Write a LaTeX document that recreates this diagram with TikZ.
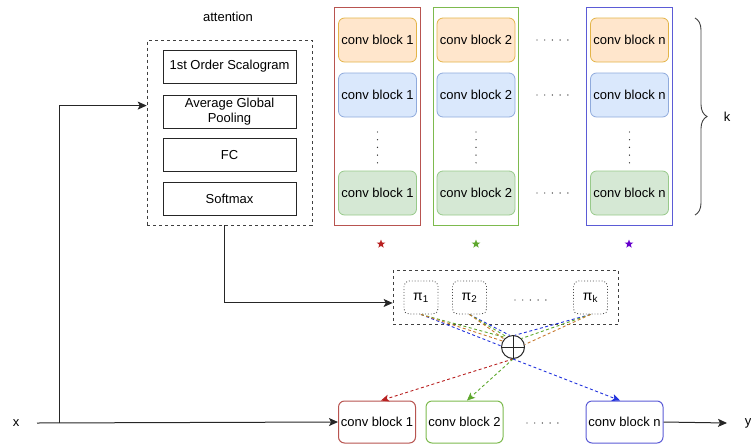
\documentclass[tikz,border=0pt]{standalone}
\usepackage{fontspec}
\setmainfont{Liberation Sans}
\usepackage{xcolor}
\usepackage{tikz}
\usetikzlibrary{arrows.meta,positioning,calc,fit,shapes.geometric,
                decorations.pathreplacing}
\definecolor{orgfill}{HTML}{FFE6CC}
\definecolor{orgline}{HTML}{E3B448}
\definecolor{blufill}{HTML}{DAE8FC}
\definecolor{bluline}{HTML}{8FAADC}
\definecolor{grnfill}{HTML}{D5E8D4}
\definecolor{grnline}{HTML}{97C98A}
\definecolor{redframe}{HTML}{B85450}
\definecolor{grnframe}{HTML}{7DBA4E}
\definecolor{bluframe}{HTML}{5B5BD6}
\definecolor{redmix}{HTML}{B82020}
\definecolor{grnmix}{HTML}{5FA82E}
\definecolor{blumix}{HTML}{2233DD}
\definecolor{orgmix}{HTML}{C8792E}
\definecolor{purstar}{HTML}{6600CC}

\begin{document}
\begin{tikzpicture}[
    x=1pt,y=-1pt,
    font=\fontsize{13}{15}\selectfont,
    cb/.style       = {draw, rounded corners=6pt, line width=0.8pt,
                       minimum width=78pt, minimum height=44pt, inner sep=1pt},
    cbo/.style      = {cb, draw=orgline, fill=orgfill},
    cbb/.style      = {cb, draw=bluline, fill=blufill},
    cbg/.style      = {cb, draw=grnline, fill=grnfill},
    bot/.style      = {cb, fill=white, line width=1pt,
                       minimum width=77pt, minimum height=42pt},
    att/.style      = {draw=black!85, line width=0.8pt, align=center,
                       minimum width=133pt, minimum height=33pt, inner sep=1pt},
    pibox/.style    = {draw=black!70, dotted, line width=0.9pt,
                       rounded corners=5pt, minimum width=34pt, minimum height=33pt,
                       font=\fontsize{14}{16}\selectfont},
    colframe/.style = {draw, line width=1pt, inner xsep=3.5pt, inner ysep=10.5pt},
    grp/.style      = {draw=black!75, dashed, line width=0.8pt},
    wire/.style     = {black!85, line width=1pt},
    arr/.style      = {wire, -{Stealth[length=9pt,width=8pt,inset=2pt]}},
    mix/.style      = {line width=0.9pt, dash pattern=on 3pt off 2.5pt},
    mixarr/.style   = {mix, -{Stealth[length=8pt,width=7pt,inset=2pt]}},
    dotrow/.style   = {black!80, line width=1.4pt, line cap=round,
                       dash pattern=on 0pt off 7.7pt},
    starnode/.style = {star, star points=5, star point ratio=2.4, inner sep=0pt,
                       minimum size=9pt},
  ]
  \useasboundingbox (0,0) rectangle (751,447);

  % Attention module
  \node (attlab) at (228,17) {attention};
  \node[att] (scal) at (229.5,66.5) {1st Order Scalogram};
  \node[att] (pool) at (229.5,111.5) {Average Global\\Pooling};
  \node[att] (fc)   at (229.5,155)   {FC};
  \node[att] (soft) at (229.5,198.5) {Softmax};
  \node[grp, fit=(scal)(soft), inner xsep=15.5pt, inner ysep=9.5pt] (attn) {};

  % Columns of conv blocks
  \node[cbo] (c1o) at (377.5,40)  {conv block 1};
  \node[cbb] (c1b) at (377.5,95)  {conv block 1};
  \node[cbg] (c1g) at (377.5,193) {conv block 1};
  \node[cbo] (c2o) at (476,40)    {conv block 2};
  \node[cbb] (c2b) at (476,95)    {conv block 2};
  \node[cbg] (c2g) at (476,193)   {conv block 2};
  \node[cbo] (cno) at (629.5,40)  {conv block n};
  \node[cbb] (cnb) at (629.5,95)  {conv block n};
  \node[cbg] (cng) at (629.5,193) {conv block n};

  \node[colframe, draw=redframe, fit=(c1o)(c1g)] (col1) {};
  \node[colframe, draw=grnframe, fit=(c2o)(c2g)] (col2) {};
  \node[colframe, draw=bluframe, fit=(cno)(cng)] (coln) {};

  \foreach \x in {377.5,476,629.5}
    \draw[dotrow] (\x,132) -- (\x,164);
  \foreach \y in {40,95,193}
    \draw[dotrow] (537,\y) -- (568,\y);

  \node[starnode, fill=redmix]  (s1) at (381,244) {};
  \node[starnode, fill=grnmix]  (s2) at (476,244) {};
  \node[starnode, fill=purstar] (sn) at (629,244) {};

  % Brace over the k rows
  \draw[decorate, decoration={brace, amplitude=12pt}, black!75, line width=0.9pt]
       (695,18) -- (695,215);
  \node (klab) at (727,117) {k};

  % Mixing weights
  \node[pibox] (pa) at (421,297.5)   {π\textsubscript{1}};
  \node[pibox] (pb) at (469.5,297.5) {π\textsubscript{2}};
  \node[pibox] (pk) at (590.5,297.5) {π\textsubscript{k}};
  \draw[dotrow] (515,300) -- (546,300);
  \node[grp, fit=(pa)(pk), inner xsep=10.5pt, inner ysep=10pt] (pgrp) {};

  \node[circle, draw=black!85, line width=1pt, minimum size=23pt, inner sep=0pt]
       (sum) at (513,347) {};
  \draw[black!85, line width=1pt] (sum.north) -- (sum.south)
                                  (sum.west) -- (sum.east);

  \foreach \p/\ab/\ag/\ao in {pa/175/128/150, pb/105/122/138, pk/80/45/12}{
    \draw[mix, blumix] (\p.south) -- (sum.\ab);
    \draw[mix, grnmix] (\p.south) -- (sum.\ag);
    \draw[mix, orgmix] (\p.south) -- (sum.\ao);
  }

  % Main path
  \node[bot, draw=redframe] (b1) at (377,422)   {conv block 1};
  \node[bot, draw=grnframe] (b2) at (464.5,422) {conv block 2};
  \node[bot, draw=bluframe] (bn) at (624.5,422) {conv block n};
  \draw[dotrow] (527,423) -- (558,423);

  \draw[mixarr, redmix] (sum.south) -- ([xshift=4pt]b1.north);
  \draw[mixarr, grnmix] (sum.south) -- ([xshift=2.5pt]b2.north);
  \draw[mixarr, blumix] (sum.south) -- ([xshift=-4.5pt]bn.north);

  \node (xlab) at (16,423) {x};
  \coordinate (xin)  at (37,423);
  \coordinate (br)   at (59,423);
  \coordinate (yout) at (727,423);
  \node (ylab) at (748,423) {y};

  \draw[arr] (xin) -- (b1.west);
  \draw[arr] (br) |- ($(attn.north west)!0.355!(attn.south west)$);
  \draw[arr] ([xshift=-5.5pt]attn.south) |- ($(pgrp.north west)!0.6!(pgrp.south west)$);
  \draw[arr] (bn.east) -- (yout);

\end{tikzpicture}
\end{document}
